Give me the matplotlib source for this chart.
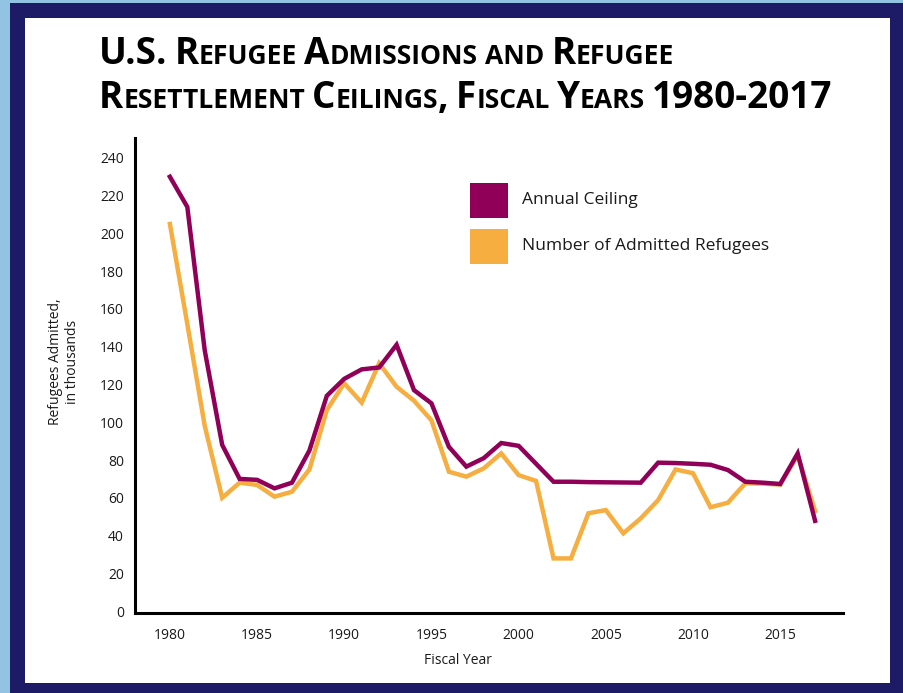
import matplotlib
matplotlib.use("Agg")
import matplotlib.pyplot as plt
from matplotlib.patches import Rectangle

# -----------------------------
# Data (thousands of refugees)
# -----------------------------
years = list(range(1980, 2018))
ceiling = [230, 214, 138, 88, 70, 69.5, 65, 68, 85, 114, 123, 128, 129, 141,
           117, 110, 87, 76.5, 81, 89, 87.5, 78, 68.5, 68.5, 68.3, 68.2, 68.1,
           68, 78.6, 78.4, 78, 77.5, 74.7, 68.5, 68, 67.3, 83.5, 47.8]
admitted = [205, 152, 98, 60, 68, 66.8, 60.6, 63.2, 75, 106.5, 120.6, 110.4,
            131.2, 118.8, 111.4, 101, 73.8, 71.2, 75.6, 83.5, 72, 68.9, 27.9,
            27.9, 51.8, 53.5, 41.2, 49.1, 58.8, 75, 73, 55, 57.4, 67.7, 67.5,
            67, 82.5, 53]
xticks = [1980, 1985, 1990, 1995, 2000, 2005, 2010, 2015]
yticks = list(range(0, 241, 20))

title_lines = ["U.S. Refugee Admissions and Refugee",
               "Resettlement Ceilings, Fiscal Years 1980-2017"]
series_names = ["Annual Ceiling", "Number of Admitted Refugees"]

PURPLE = "#900058"
ORANGE = "#f5ae3f"
NAVY = "#1d1a66"
SKY = "#93c3e3"
INK = "#1a1a1a"
FONT = ["Open Sans", "DejaVu Sans"]

W, H = 904, 693
fig = plt.figure(figsize=(W / 100, H / 100), dpi=100, facecolor=SKY)


def px_rect(x0, y0, x1, y1, color, z=-10):
    # rectangle given in pixel coords measured from the top-left corner
    fig.patches.append(Rectangle((x0 / W, 1 - y1 / H), (x1 - x0) / W,
                                 (y1 - y0) / H, transform=fig.transFigure,
                                 facecolor=color, edgecolor="none", zorder=z))


px_rect(10, 3, W, H, NAVY)
px_rect(25, 18, 890, 683, "white")

# -----------------------------
# Axes
# -----------------------------
ax = fig.add_axes([135 / W, 1 - 613 / H, (843 - 135) / W, (613 - 138) / H])
ax.set_facecolor("none")
ax.plot(years, ceiling, color=PURPLE, lw=3.2, zorder=3,
        solid_joinstyle="miter")
ax.plot(years, admitted, color=ORANGE, lw=3.2, zorder=2,
        solid_joinstyle="miter")
ax.set_xlim(1978, 2018.6)
ax.set_ylim(-1, 250.5)
ax.set_xticks(xticks)
ax.set_yticks(yticks)
ax.tick_params(length=0, labelsize=10, colors=INK)
ax.tick_params(axis="x", pad=11)
ax.tick_params(axis="y", pad=8)
for lab in ax.get_xticklabels() + ax.get_yticklabels():
    lab.set_family(FONT)
for s in ["top", "right"]:
    ax.spines[s].set_visible(False)
for s in ["left", "bottom"]:
    ax.spines[s].set_linewidth(2.2)
    ax.spines[s].set_color("black")

fig.text(458 / W, 1 - 660 / H, "Fiscal Year", ha="center", va="center",
         fontsize=10, family=FONT, color=INK)
fig.text(64 / W, 1 - 362 / H, "Refugees Admitted,\nin thousands",
         rotation=90, ha="center", va="center", multialignment="center",
         fontsize=10, family=FONT, color=INK, linespacing=1.1)

# -----------------------------
# Legend (colour squares)
# -----------------------------
for i, (name, col) in enumerate(zip(series_names, [PURPLE, ORANGE])):
    top = 183 + i * 46
    px_rect(470, top, 508, top + 35, col, z=5)
    fig.text(522 / W, 1 - (top + 17) / H, name, ha="left", va="center",
             fontsize=12.5, family=FONT, color=INK)

# -----------------------------
# Title in small caps
# -----------------------------
renderer = fig.canvas.get_renderer()
BIG, SMALL = 26.6, 19.1


def small_caps(text, x, y):
    for wi, word in enumerate(text.split(" ")):
        if wi:
            x += 0.27 * SMALL * 100 / 72
        runs = []
        for ch in word:
            size = SMALL if ch.islower() else BIG
            if runs and runs[-1][1] == size:
                runs[-1][0] += ch.upper()
            else:
                runs.append([ch.upper(), size])
        for chunk, size in runs:
            t = fig.text(x / W, 1 - y / H, chunk, fontsize=size,
                         fontweight="bold", family=FONT, color="black",
                         ha="left", va="baseline")
            x += t.get_window_extent(renderer=renderer).width


small_caps(title_lines[0], 99, 64)
small_caps(title_lines[1], 99, 108)

fig.savefig("out.png", dpi=100, facecolor=SKY)
